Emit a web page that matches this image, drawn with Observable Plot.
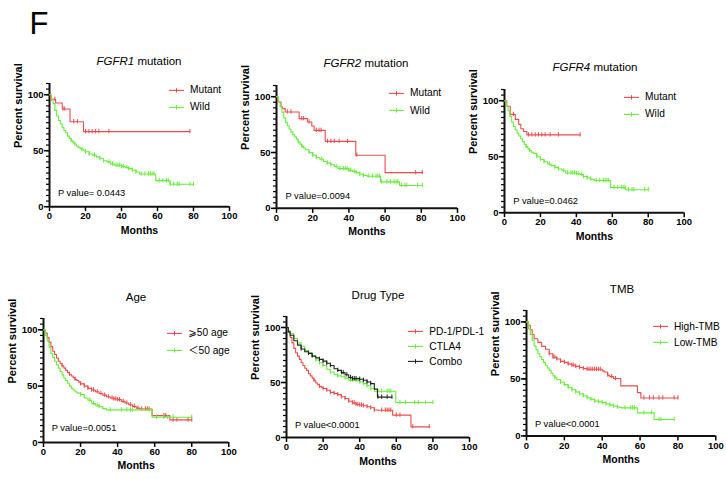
<!DOCTYPE html>
<html><head><meta charset="utf-8">
<script src="https://cdn.jsdelivr.net/npm/d3@7"></script>
<script src="https://cdn.jsdelivr.net/npm/@observablehq/plot@0.6"></script>
<style>
body{margin:0;background:#fff;font-family:Arial,"Liberation Sans",sans-serif;}
#root{position:relative;width:726px;height:479px;overflow:hidden;background:#fff;}
.abs{position:absolute;white-space:nowrap;color:#000;line-height:1;}
.c{transform:translate(-50%,-50%);}
.v{transform:translateY(-50%);}
svg.panel{position:absolute;overflow:visible;}
</style></head><body><div id="root"></div><script>
// ---------- data ----------
const xTicks = [0, 20, 40, 60, 80, 100];
const yTicks = [0, 50, 100];
const yMinorTicks = [0,5,10,15,20,25,30,35,40,45,50,55,60,65,70,75,80,85,90,95,100,105,110];
const RED = "#f04b4b", GREEN = "#66ee3a", BLACK = "#222";

// FGFR1
const fgfr1MutT = [0,0.6,3.4,7.1,11.4,18.9,78];
const fgfr1MutS = [100,96,92.6,87.2,75.9,67,67];
const fgfr1MutC = [1,3,7.5,8.5,13.5,15.5,20,21.9,23.7,25.6,27.4,33,78];
const fgfr1WildT = [0,1,2,3,4,5,6,7,8,9,10,11,12,13,14,15,16,17,18,19,20,22,24,26,28,30,32,34,36,40,42,44,46,48,50,59,67,80];
const fgfr1WildS = [100,96,92,86,81,77,74,71,68,66,63,61,59,57,56,54,53,52,51,50,49,47,46,44.5,43,41,40,38,37,36,35,34,32.5,31,29.2,23.3,20,20];
const fgfr1WildC = [12,14,18,20,22,25,28,30,33,35,37,38,39,40,41,43,44,46,48,51,53,55,56,57,58,61,63,65,66,67,69,71,72,78,80];
// FGFR2
const fgfr2MutT = [0,0.6,2.5,3.3,4.8,12.5,17.1,19.5,20.8,26.9,43.8,60,80.5];
const fgfr2MutS = [100,95.2,91,89.3,86.3,80.3,77.3,73.7,69.8,60,47.5,32,32];
const fgfr2MutC = [6,8,14,15,18,22,23.5,24.6,28.2,30,31.9,34.6,39.2,44.4,76.9,80.5];
const fgfr2WildT = [0,1,2,3,4,5,6,7,8,9,10,11,12,13,14,15,16,18,20,22,24,26,28,30,32,34,40,42,44,46,48,50,57.5,68,80.6];
const fgfr2WildS = [100,95,91,86,81,77,74,71,68.5,66,64,62,59.5,57.5,55.5,54,52.5,50,47.5,45.5,44,42,40.5,39,37.5,35.6,34,33,32,30.5,29.5,28.8,23.7,20.5,20.5];
const fgfr2WildC = [12,14,18,20,22,25,28,30,33,35,37,38,39,40,41,43,44,46,48,51,53,55,56,57,58,61,63,65,66,67,69,71,72,78,80.6];
// FGFR4
const fgfr4MutT = [0,1.3,3.2,6,7.9,9.1,10.6,12.5,42.1];
const fgfr4MutS = [100,95,87.8,83.3,78.9,75,72.5,69.5,69.5];
const fgfr4MutC = [5,13.4,15.2,17.1,18.9,20.8,22.6,25.4,30,42.1];
const fgfr4WildT = [0,1,2,3,4,5,6,7,8,9,10,11,12,13,14,15,16,18,20,22,24,26,28,30,32,34,40,42,44,46,48,50,59,67.4,80];
const fgfr4WildS = [100,95,91,86,81,77,74,71,68.5,66,63.5,61,59,57,55.5,54,53,50,47.5,45.5,43.5,42,40.5,39,37.5,35.5,35,34,32.3,31,30,28.7,22.5,20.5,20.5];
const fgfr4WildC = [12,14,18,20,22,25,28,30,33,35,37,38,39,40,41,43,44,46,48,51,53,55,56,57,58,61,63,65,66,67,69,71,72,78,80];
// Age
const ageOldT = [0,1,2,3,4,5,6,7,8,9,10,11,12,13,14,15,16,17,18,19,20,22,24,26,28,30,32,34,36,38,40,42,44,46,48,50,52,58.6,68.2,80];
const ageOldS = [100,97,93,89,85,81,78,75,72,70,68,66,64,62,60.5,59,57.5,56,55,53.5,52,50,48,46.5,45,43.5,42,40.5,39.5,38.6,38,36.5,35,33.5,32,30.5,29.7,23.8,20,20];
const ageOldC = [10,14,17,20,22,24,26,27,29,31,33,35,37,38,39,40,41,43,45,47,49,51,53,55,56,57,65,66,70,72,78,80];
const ageYoungT = [0,1,2,3,4,5,6,7,8,9,10,11,12,13,14,15,16,17,18,19,20,22,24,26,28,30,32,34,58.6,80];
const ageYoungS = [100,95,90,84,79,75.5,72,69,66,63,60,57,55,52.5,50,48,46.5,45,44,43.6,42.5,39.5,37.5,34.5,33,31.8,30,28.9,22.4,22.4];
const ageYoungC = [20,25,27,29,30,36,42,45,47,48,57,61,65,67,70,80];
// Drug type
const pdT = [0,1,2,3,4,5,6,7,8,9,10,11,12,13,14,15,16,17,18,19,20,22,24,26,28,30,32,34,36,38,40,42,44,46,48,50,58,68,78];
const pdS = [100,96,91,86,81,77,74,71,68,65.5,63,61,58,56,54,52,49.5,48,46.5,45.5,44.5,43,41,40,39,37,35.5,33,31.5,30,29.5,28.8,28,27,25,24.8,20.3,9.7,9.7];
const pdC = [15,18,20,22,24,26,28,30,32,34,36,37,38,39,40,41,42,44,46,48,52,54,55,56,57,60,62,69,78];
const ctlaT = [0,1,2,4,6,8,10,12,14,16,18,20,22,24,26,28,30,32,34,38,40,42,44,46,48,59.7,80];
const ctlaS = [100,97,94.5,90,86,83,79,77,74,70.5,68,65.5,62,59.5,57,56,55.2,54,52.1,52.1,50.5,49,47,44.5,42.1,31.8,31.8];
const ctlaC = [10,16,18,20,24,28,32,35,36,38,39,40,42,44,46,50,52,55,56,57,62,65,70,72,76,80];
const comboT = [0,1,2,4,6,8,10,12,14,16,18,20,22,24,26,28,30,32,34,36,40,42,44,46,48,49.7,57.6];
const comboS = [100,96,93,88,84,80.5,78,76.5,74,72.4,71,69.4,67.5,65.5,62.5,61,59,57,54.5,53.5,53,52,50.5,49,44,36.7,36.7];
const comboC = [8,12,14,18,20,22,24,28,30,31,33,35,36,37,38,40,42,44,46,50,52,55,57.6];
// TMB
const tmbHighT = [0,1,2,3,4,6,8,10,12,14,16,18,20,22,24,26,28,30,32,40,41,42.8,44,46,49.8,58.6,60.4,80];
const tmbHighS = [100,97,93,89,85.2,82,78.5,76,72,69,67.5,65.4,64.5,63,62,61,60,59,58.4,57,56,53.2,52,50.3,43.9,38,33.3,33.3];
const tmbHighC = [12,14,15,16,18,20,22,24,25,26,28,30,32,33,34,35,36,37,38,39,43,45,47,62,65,67,70,72,78,80];
const tmbLowT = [0,1,2,3,4,5,6,7,8,9,10,11,12,13,14,15,16,18,20,22,24,26,28,30,32,34,36,38,40,42,44,46,48,50,58.6,67.4,78];
const tmbLowS = [100,94,89,84,79,75.5,72,69.5,67,64.5,62,59.5,57.5,55,52.5,51,49.5,47,45,42.5,40.5,38.5,37,35,33.5,32,30.5,29.8,29.2,28,27,26,25.2,24.6,20.2,14.4,14.4];
const tmbLowC = [15,18,20,22,24,26,28,30,32,34,36,38,40,42,44,46,48,52,55,56,57,62,66,70,71,78];

const panels = [
  {title: ["FGFR1", " mutation"], left: 49, right: 229, y0: 206, y100: 94, titleX: 139, titleY: 62,
   p: "P value= 0.0443", pX: 58, pY: 194, legX: 190, legY: 90, legDy: 17,
   series: [{name: "Mutant", color: RED, t: fgfr1MutT, s: fgfr1MutS, c: fgfr1MutC},
            {name: "Wild", color: GREEN, t: fgfr1WildT, s: fgfr1WildS, c: fgfr1WildC}]},
  {title: ["FGFR2", " mutation"], left: 276, right: 457, y0: 207.7, y100: 96, titleX: 366, titleY: 64,
   p: "P value=0.0094", pX: 285.5, pY: 196.7, legX: 410, legY: 93.3, legDy: 17.4,
   series: [{name: "Mutant", color: RED, t: fgfr2MutT, s: fgfr2MutS, c: fgfr2MutC},
            {name: "Wild", color: GREEN, t: fgfr2WildT, s: fgfr2WildS, c: fgfr2WildC}]},
  {title: ["FGFR4", " mutation"], left: 504.3, right: 684, y0: 212, y100: 100, titleX: 595, titleY: 68,
   p: "P value=0.0462", pX: 513.3, pY: 201.7, legX: 645, legY: 97.3, legDy: 16.7,
   series: [{name: "Mutant", color: RED, t: fgfr4MutT, s: fgfr4MutS, c: fgfr4MutC},
            {name: "Wild", color: GREEN, t: fgfr4WildT, s: fgfr4WildS, c: fgfr4WildC}]},
  {title: [null, "Age"], left: 42.7, right: 228, y0: 441.7, y100: 329, titleX: 136, titleY: 298,
   p: "P value=0.0051", pX: 51.7, pY: 429, legX: 188.3, legY: 333.3, legDy: 17.4,
   series: [{name: "⩾50 age", color: RED, t: ageOldT, s: ageOldS, c: ageOldC},
            {name: "＜50 age", color: GREEN, t: ageYoungT, s: ageYoungS, c: ageYoungC}]},
  {title: [null, "Drug Type"], left: 286, right: 469, y0: 437, y100: 327, titleX: 378, titleY: 296,
   p: "P value<0.0001", pX: 295, pY: 426, legX: 429.3, legY: 331.7, legDy: 15,
   series: [{name: "PD-1/PDL-1", color: RED, t: pdT, s: pdS, c: pdC},
            {name: "CTLA4", color: GREEN, t: ctlaT, s: ctlaS, c: ctlaC},
            {name: "Combo", color: BLACK, t: comboT, s: comboS, c: comboC}]},
  {title: [null, "TMB"], left: 525.7, right: 715, y0: 435.7, y100: 321.7, titleX: 622, titleY: 290,
   p: "P value<0.0001", pX: 535, pY: 425, legX: 674, legY: 326.7, legDy: 16,
   series: [{name: "High-TMB", color: RED, t: tmbHighT, s: tmbHighS, c: tmbHighC},
            {name: "Low-TMB", color: GREEN, t: tmbLowT, s: tmbLowS, c: tmbLowC}]}
];

// ---------- drawing ----------
const root = document.getElementById("root");
const FONT = "Arial, 'Liberation Sans', sans-serif";

function stepAt(t, ts, ss) {
  let v = ss[0];
  for (let i = 0; i < ts.length; i++) if (ts[i] <= t) v = ss[i];
  return v;
}
function addDiv(html, x, y, cls, style) {
  const d = document.createElement("div");
  d.className = "abs " + cls;
  d.style.left = x + "px"; d.style.top = y + "px";
  Object.assign(d.style, style || {});
  d.innerHTML = html;
  root.appendChild(d);
  return d;
}

// panel letter
addDiv("F", 29.5, 8, "", {fontSize: "31px", fontFamily: FONT});

for (const P of panels) {
  const ky = (P.y0 - P.y100) / 100;
  const pw = P.right - P.left, ph = 110 * ky;
  const mL = 45, mR = 12, mT = 4, mB = 40;
  const tickHalf = 2.2 / ky;
  const marks = [
    Plot.axisY(yMinorTicks, {tickSize: 3, tickFormat: () => "", strokeWidth: 1.2}),
    Plot.axisY(yTicks, {tickSize: 5, tickPadding: 1, strokeWidth: 1.5, fontWeight: "bold", fontSize: 9.5}),
    Plot.axisX(xTicks, {tickSize: 5, tickPadding: 1, strokeWidth: 1.5, fontWeight: "bold", fontSize: 9.5}),
    Plot.ruleX([0], {y1: 0, y2: 110, strokeWidth: 2, stroke: "#111"}),
    Plot.ruleY([0], {x1: 0, x2: 100, strokeWidth: 2, stroke: "#111"}),
    Plot.text(["Percent survival"], {frameAnchor: "left", dx: -31, dy: 3, rotate: -90, fontWeight: "bold", fontSize: 11}),
    Plot.text(["Months"], {frameAnchor: "bottom", dy: 27, fontWeight: "bold", fontSize: 10.5})
  ];
  for (const S of P.series) {
    const pts = S.t.map((t, i) => ({t, s: S.s[i]}));
    const cens = S.c.map(t => ({t, s: stepAt(t, S.t, S.s)}));
    marks.push(Plot.line(pts, {x: "t", y: "s", curve: "step-after", stroke: S.color, strokeWidth: 1.1}));
    marks.push(Plot.ruleX(cens, {x: "t", y1: d => d.s - tickHalf, y2: d => d.s + tickHalf, stroke: S.color, strokeWidth: 1}));
  }
  const svg = Plot.plot({
    width: mL + pw + mR, height: mT + ph + mB,
    marginLeft: mL, marginRight: mR, marginTop: mT, marginBottom: mB,
    x: {domain: [0, 100], label: null},
    y: {domain: [0, 110], label: null},
    style: {fontFamily: FONT, color: "#000", background: "transparent", overflow: "visible"},
    marks
  });
  svg.classList.add("panel");
  svg.style.left = (P.left - mL) + "px";
  svg.style.top = (P.y0 - ph - mT) + "px";
  root.appendChild(svg);

  // title
  const tHtml = P.title[0] ? `<i>${P.title[0]}</i>${P.title[1]}` : P.title[1];
  addDiv(tHtml, P.titleX, P.titleY, "c", {fontSize: "11.5px", fontFamily: FONT});
  // p value
  addDiv(P.p, P.pX, P.pY, "v", {fontSize: "9.3px", fontFamily: FONT});
  // legend
  P.series.forEach((S, i) => {
    const y = P.legY + i * P.legDy;
    const sw = `<svg width="16" height="7" style="position:absolute;left:-21px;top:50%;margin-top:-3.5px;overflow:visible">
      <line x1="0" x2="15" y1="3.5" y2="3.5" stroke="${S.color}" stroke-width="1.1"/>
      <line x1="7.5" x2="7.5" y1="1.3" y2="5.7" stroke="${S.color}" stroke-width="1"/></svg>`;
    addDiv(sw + `<span>${S.name}</span>`, P.legX, y, "v", {fontSize: "10.2px", fontFamily: FONT + ", 'DejaVu Sans', 'Noto Sans CJK SC'"});
  });
}
</script></body></html>
